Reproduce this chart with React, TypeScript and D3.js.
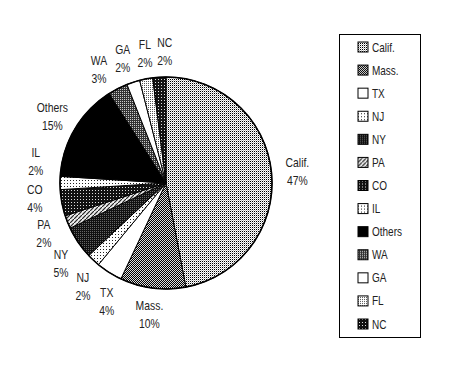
import React from 'react';
import * as d3 from 'd3';

const states = ['Calif.', 'Mass.', 'TX', 'NJ', 'NY', 'PA', 'CO', 'IL', 'Others', 'WA', 'GA', 'FL', 'NC'];
const shares = [47, 10, 4, 2, 5, 2, 4, 2, 15, 3, 2, 2, 2];
const fills = ['p25', 'p50', 'white', 'p12', 'p75', 'hatch', 'grid', 'p12', 'black', 'grid2', 'white', 'p12b', 'grid'];

const W = 450;
const H = 387;
const cx = 166;
const cy = 183;
const R = 106;
const labelR = 132;
const font = '"Liberation Sans", "DejaVu Sans", sans-serif';
const squeeze = 0.8;

const fillOf = (k: string) => (k === 'white' ? '#fff' : k === 'black' ? '#000' : `url(#${k})`);

// spread label angles apart so the two-line labels don't collide
function spreadAngles(mids: number[]) {
  const a = mids.slice();
  for (let it = 0; it < 300; it++) {
    for (let i = 0; i < a.length - 1; i++) {
      const mid = (a[i] + a[i + 1]) / 2;
      const need = (8 + 8 * Math.abs(Math.sin(mid))) * (Math.PI / 180);
      const gap = a[i + 1] - a[i];
      if (gap < need) {
        const push = (need - gap) / 2;
        a[i] -= push;
        a[i + 1] += push;
      }
    }
  }
  return a;
}

const Patterns = () => (
  <defs>
    <pattern id="p25" width={2} height={2} patternUnits="userSpaceOnUse">
      <rect width={2} height={2} fill="#fff" />
      <rect width={1} height={1} fill="#000" />
      <rect x={1} y={1} width={1} height={1} fill="#bbb" />
    </pattern>
    <pattern id="p12" width={3} height={3} patternUnits="userSpaceOnUse">
      <rect width={3} height={3} fill="#fff" />
      <rect width={1} height={1} fill="#222" />
    </pattern>
    <pattern id="p12b" width={2} height={2} patternUnits="userSpaceOnUse">
      <rect width={2} height={2} fill="#fff" />
      <rect width={1} height={1} fill="#555" />
    </pattern>
    <pattern id="p50" width={2} height={2} patternUnits="userSpaceOnUse">
      <rect width={2} height={2} fill="#ddd" />
      <rect width={1} height={1} fill="#000" />
      <rect x={1} y={1} width={1} height={1} fill="#000" />
    </pattern>
    <pattern id="p75" width={2} height={2} patternUnits="userSpaceOnUse">
      <rect width={2} height={2} fill="#111" />
      <rect width={1} height={1} fill="#666" />
    </pattern>
    <pattern id="grid" width={3} height={3} patternUnits="userSpaceOnUse">
      <rect width={3} height={3} fill="#111" />
      <rect x={1} y={1} width={1} height={1} fill="#ddd" />
    </pattern>
    <pattern id="grid2" width={2} height={2} patternUnits="userSpaceOnUse">
      <rect width={2} height={2} fill="#333" />
      <rect width={1} height={1} fill="#ccc" />
    </pattern>
    <pattern id="hatch" width={4} height={4} patternUnits="userSpaceOnUse">
      <rect width={4} height={4} fill="#eee" />
      <path d="M0,4 L4,0" stroke="#222" strokeWidth={1.2} />
    </pattern>
  </defs>
);

export default function App() {
  const pie = d3.pie<number>().sort(null).value((d) => d);
  const arcs = pie(shares);
  const arc = d3.arc<d3.PieArcDatum<number>>().innerRadius(0).outerRadius(R);
  const labelAngles = spreadAngles(arcs.map((a) => (a.startAngle + a.endAngle) / 2));

  const legendY = d3.scaleLinear().domain([0, states.length - 1]).range([47, 324]);

  return (
    <svg
      width={W}
      height={H}
      style={{ position: 'absolute', left: 0, top: 0, background: '#fff' }}
      fontFamily={font}
    >
      <Patterns />
      <g transform={`translate(${cx},${cy})`}>
        {arcs.map((a, i) => (
          <path key={states[i]} d={arc(a) || ''} fill={fillOf(fills[i])} stroke="#000" strokeWidth={1} />
        ))}
        <circle r={R} fill="none" stroke="#000" strokeWidth={1.6} />
        {arcs.map((a, i) => {
          const t = labelAngles[i];
          const x = labelR * Math.sin(t);
          const y = -labelR * Math.cos(t);
          return (
            <g key={states[i]} transform={`translate(${x},${y}) scale(${squeeze},1)`}>
              <text textAnchor="middle" fontSize={13} fill="#222">
                <tspan x={0} y={-4}>{states[i]}</tspan>
                <tspan x={0} y={14}>{shares[i]}%</tspan>
              </text>
            </g>
          );
        })}
      </g>
      <rect x={339.5} y={34.5} width={81} height={303} fill="#fff" stroke="#000" strokeWidth={1} />
      {states.map((s, i) => (
        <g key={s} transform={`translate(358,${legendY(i)})`}>
          <rect x={0} y={-5} width={10} height={10} fill={fillOf(fills[i])} stroke="#000" strokeWidth={1} />
          <text x={14 / squeeze} y={4.5} fontSize={12.5} fill="#222" transform={`scale(${squeeze},1)`}>
            {s}
          </text>
        </g>
      ))}
    </svg>
  );
}
